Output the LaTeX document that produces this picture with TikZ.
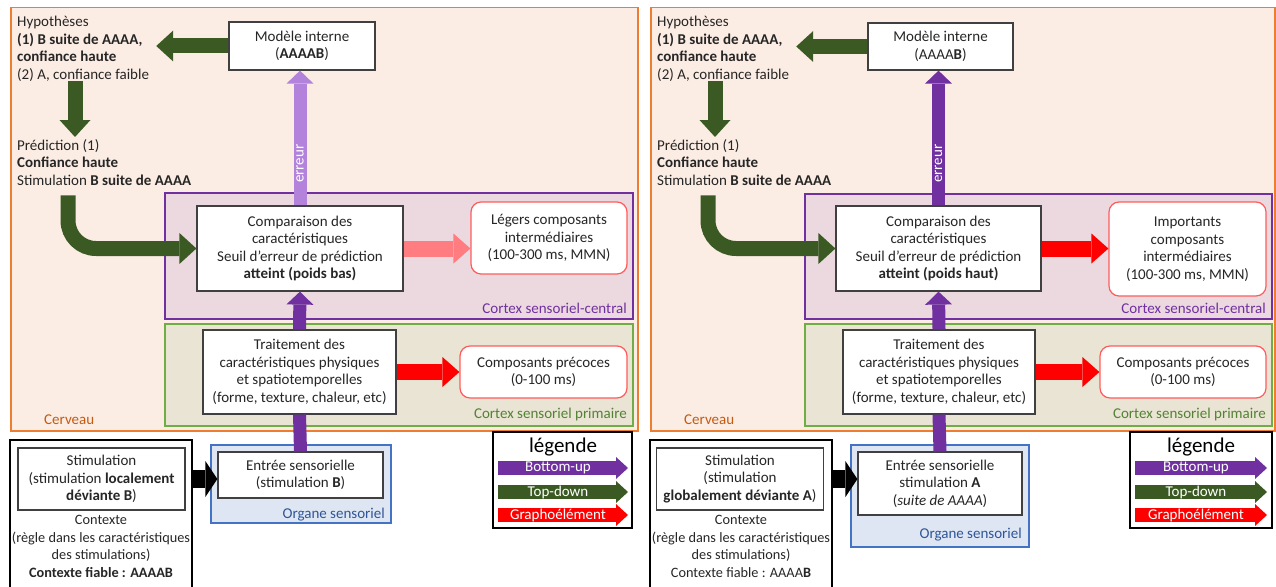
\documentclass[tikz,border=0pt]{standalone}
\usepackage{fontspec}
\setmainfont{Carlito}
\usetikzlibrary{positioning, arrows.meta}

\definecolor{orangeC}{HTML}{ED7D31}
\definecolor{fondC}{HTML}{FCEDE4}
\definecolor{brunC}{HTML}{C55A11}
\definecolor{violetC}{HTML}{7030A0}
\definecolor{violetF}{HTML}{EBD9DF}
\definecolor{violetL}{HTML}{B383DB}
\definecolor{vertC}{HTML}{70AD47}
\definecolor{vertF}{HTML}{E9E4D3}
\definecolor{vertT}{HTML}{548235}
\definecolor{vertS}{HTML}{3B5A23}
\definecolor{bleuC}{HTML}{4472C4}
\definecolor{bleuF}{HTML}{DEE6F3}
\definecolor{bleuT}{HTML}{2F5597}
\definecolor{rougeC}{HTML}{FF0000}
\definecolor{roseC}{HTML}{FF7C80}
\definecolor{bordC}{HTML}{FF5B5B}
\definecolor{texteC}{HTML}{262626}

\begin{document}
\begin{tikzpicture}[
    x=1pt, y=-1pt,
    font=\fontsize{15}{17.5}\selectfont,
    text=texteC,
    cerveau/.style={rectangle, draw=orangeC, fill=fondC, line width=1.5pt, anchor=north west, inner sep=0pt},
    central/.style={rectangle, draw=violetC, fill=violetF, line width=1.5pt, anchor=north west, inner sep=0pt},
    primaire/.style={rectangle, draw=vertC, fill=vertF, line width=1.5pt, anchor=north west, inner sep=0pt},
    organe/.style={rectangle, draw=bleuC, fill=bleuF, line width=1.5pt, anchor=north west, inner sep=0pt},
    boite/.style={rectangle, draw=black!75, fill=white, line width=1.2pt, align=center, inner sep=1pt},
    composant/.style={rectangle, rounded corners=10pt, draw=bordC, fill=white, line width=1.2pt, align=center, inner sep=1pt},
    cadre/.style={rectangle, draw=black, line width=2pt},
    bloc/.style={align=left, anchor=north west, inner sep=0pt},
    contexte/.style={anchor=north, align=center, inner sep=0pt, font=\fontsize{14.3}{17.7}\selectfont},
    zonelabel/.style={anchor=base east, inner sep=0pt},
    titre/.style={font=\fontsize{21}{24}\selectfont, text=black, inner sep=0pt},
    topdown/.style={draw=vertS, line width=15pt, -{Triangle[width=31pt, length=17pt, line width=0pt]}},
    bottomup/.style={draw=violetC, line width=13pt, -{Triangle[width=27pt, length=13pt, line width=0pt]}},
    grapho/.style={draw=rougeC, line width=16pt, -{Triangle[width=30pt, length=17pt, line width=0pt]}},
    stimfleche/.style={draw=black, line width=18pt, -{Triangle[width=36pt, length=12pt, line width=0pt]}},
    legfleche/.style={line width=14pt, -{Triangle[width=22pt, length=12pt, line width=0pt]}},
    legtexte/.style={midway, text=white, inner sep=0pt, xshift=-5pt}
]
\useasboundingbox (0,0) rectangle (1276,586);

% ---------- Panneau gauche : déviance locale ----------
\node[cerveau, minimum width=627pt, minimum height=423pt] (cerveau1) at (10,7) {};
\node[central, minimum width=468pt, minimum height=126pt] (central1) at (164,192) {};
\node[primaire, minimum width=468pt, minimum height=102pt] (primaire1) at (164,323) {};
\node[organe, minimum width=180pt, minimum height=78pt] (organe1) at (210,444) {};

\node[anchor=base west, inner sep=0pt, text=brunC] (lcerveau1) at (44,424) {Cerveau};
\node[zonelabel, text=violetC] (lcentral1) at (627,313) {Cortex sensoriel-central};
\node[zonelabel, text=vertT] (lprimaire1) at (627,418) {Cortex sensoriel primaire};
\node[zonelabel, text=bleuT] (lorgane1) at (385,518) {Organe sensoriel};

\node[bloc] (hyp1) at (17,16) {Hypothèses\\\textbf{(1) B suite de AAAA,}\\\textbf{confiance haute}\\(2) A, confiance faible};
\node[bloc] (pred1) at (17,139) {Prédiction (1)\\\textbf{Confiance haute}\\Stimulation \textbf{B suite de AAAA}};

\node[boite, minimum width=146pt, minimum height=48pt] (modele1) at (302,46) {Modèle interne\\(\textbf{AAAAB})};
\node[boite, minimum width=206pt, minimum height=85pt] (comp1) at (300,248.5) {Comparaison des\\caractéristiques\\Seuil d’erreur de prédiction\\\textbf{atteint (poids bas)}};
\node[composant, minimum width=156pt, minimum height=72pt] (leger1) at (549,238) {Légers composants\\intermédiaires\\(100-300 ms, MMN)};
\node[boite, minimum width=193pt, minimum height=84pt] (trait1) at (299.5,372) {Traitement des\\caractéristiques physiques\\et spatiotemporelles\\(forme, texture, chaleur, etc)};
\node[composant, minimum width=167pt, minimum height=52pt] (precoce1) at (543.5,372) {Composants précoces\\(0-100 ms)};
\node[boite, minimum width=165pt, minimum height=46pt] (entree1) at (300.5,475) {Entrée sensorielle\\(stimulation \textbf{B})};

\node[cadre, minimum width=182pt, minimum height=160pt] (cadre1) at (101,520) {};
\node[boite, minimum width=167pt, minimum height=62pt] (stim1) at (101.5,479) {Stimulation\\(stimulation \textbf{localement}\\\textbf{déviante B})};
\node[contexte] (contexte1) at (101,515) {Contexte\\(règle dans les caractéristiques\\des stimulations)\\\textbf{Contexte fiable : AAAAB}};

% flèches
\draw[topdown, shorten >=7pt] (modele1.west) -- (modele1.west -| hyp1.east);
\draw[topdown, shorten >=2pt] ([xshift=58pt]hyp1.south west) -- ([xshift=58pt]hyp1.south west |- pred1.north);
\draw[topdown, rounded corners=28pt] ([xshift=51pt,yshift=-10pt]pred1.south west) |- (comp1.west);
\draw[bottomup, draw=violetL] (comp1.north) -- (comp1.north |- modele1.south)
    node[pos=0.31, rotate=90, text=white, inner sep=0pt] (err1) {erreur};
\draw[bottomup] (trait1.north) -- (comp1.south);
\draw[draw=violetC, line width=13pt] (entree1.north) -- (trait1.south);
\draw[grapho, draw=roseC] (comp1.east) -- (comp1.east -| leger1.west);
\draw[grapho] (trait1.east) -- (precoce1.west);
\draw[stimfleche] (cadre1.east |- stim1.east) -- (stim1.east -| entree1.west);

% légende
\node[cadre, minimum width=139pt, minimum height=96pt] (legende1) at (562.5,480) {};
\node[titre] (titre1) at (563,447) {légende};
\coordinate (bu1a) at (498,468); \coordinate (bu1b) at (628,468);
\coordinate (td1a) at (498,492); \coordinate (td1b) at (628,492);
\coordinate (gr1a) at (498,515); \coordinate (gr1b) at (628,515);
\draw[legfleche, draw=violetC] (bu1a) -- (bu1b) node[legtexte] {Bottom-up};
\draw[legfleche, draw=vertS] (td1a) -- (td1b) node[legtexte] {Top-down};
\draw[legfleche, draw=rougeC] (gr1a) -- (gr1b) node[legtexte] {Graphoélément};

% ---------- Panneau droit : déviance globale ----------
\node[cerveau, minimum width=624pt, minimum height=423pt] (cerveau2) at (650,7) {};
\node[central, minimum width=467pt, minimum height=125pt] (central2) at (804,193) {};
\node[primaire, minimum width=467pt, minimum height=102pt] (primaire2) at (804,323) {};
\node[organe, minimum width=178pt, minimum height=102pt] (organe2) at (850,444) {};

\node[anchor=base west, inner sep=0pt, text=brunC] (lcerveau2) at (684,424) {Cerveau};
\node[zonelabel, text=violetC] (lcentral2) at (1266,313) {Cortex sensoriel-central};
\node[zonelabel, text=vertT] (lprimaire2) at (1266,418) {Cortex sensoriel primaire};
\node[zonelabel, text=bleuT] (lorgane2) at (1022,538) {Organe sensoriel};

\node[bloc] (hyp2) at (657,16) {Hypothèses\\\textbf{(1) B suite de AAAA,}\\\textbf{confiance haute}\\(2) A, confiance faible};
\node[bloc] (pred2) at (657,139) {Prédiction (1)\\\textbf{Confiance haute}\\Stimulation \textbf{B suite de AAAA}};

\node[boite, minimum width=145pt, minimum height=47pt] (modele2) at (940.5,46.5) {Modèle interne\\(AAAA\textbf{B})};
\node[boite, minimum width=205pt, minimum height=85pt] (comp2) at (938.5,248.5) {Comparaison des\\caractéristiques\\Seuil d’erreur de prédiction\\\textbf{atteint (poids haut)}};
\node[composant, minimum width=157pt, minimum height=94pt] (important2) at (1187.5,249) {Importants\\composants\\intermédiaires\\(100-300 ms, MMN)};
\node[boite, minimum width=192pt, minimum height=84pt] (trait2) at (939,372) {Traitement des\\caractéristiques physiques\\et spatiotemporelles\\(forme, texture, chaleur, etc)};
\node[composant, minimum width=166pt, minimum height=52pt] (precoce2) at (1183,372) {Composants précoces\\(0-100 ms)};
\node[boite, minimum width=164pt, minimum height=63pt] (entree2) at (940,483.5) {Entrée sensorielle\\stimulation \textbf{A}\\(\textit{suite de AAAA})};

\node[cadre, minimum width=182pt, minimum height=160pt] (cadre2) at (741,520) {};
\node[boite, minimum width=167pt, minimum height=62pt] (stim2) at (740,479) {Stimulation\\(stimulation\\\textbf{globalement déviante A})};
\node[contexte] (contexte2) at (741,515) {Contexte\\(règle dans les caractéristiques\\des stimulations)\\Contexte fiable : AAAA\textbf{B}};

% flèches
\draw[topdown, shorten >=7pt] (modele2.west) -- (modele2.west -| hyp2.east);
\draw[topdown, shorten >=2pt] ([xshift=58pt]hyp2.south west) -- ([xshift=58pt]hyp2.south west |- pred2.north);
\draw[topdown, rounded corners=28pt] ([xshift=51pt,yshift=-10pt]pred2.south west) |- (comp2.west);
\draw[bottomup] (comp2.north) -- (comp2.north |- modele2.south)
    node[pos=0.31, rotate=90, text=white, inner sep=0pt] (err2) {erreur};
\draw[bottomup] (trait2.north) -- (comp2.south);
\draw[draw=violetC, line width=13pt] (entree2.north) -- (trait2.south);
\draw[grapho] (comp2.east) -- (comp2.east -| important2.west);
\draw[grapho] (trait2.east) -- (precoce2.west);
\draw[stimfleche] (cadre2.east |- stim2.east) -- (stim2.east -| entree2.west);

% légende
\node[cadre, minimum width=142pt, minimum height=96pt] (legende2) at (1201,480) {};
\node[titre] (titre2) at (1201,447) {légende};
\coordinate (bu2a) at (1135,468); \coordinate (bu2b) at (1267,468);
\coordinate (td2a) at (1135,492); \coordinate (td2b) at (1267,492);
\coordinate (gr2a) at (1135,515); \coordinate (gr2b) at (1267,515);
\draw[legfleche, draw=violetC] (bu2a) -- (bu2b) node[legtexte] {Bottom-up};
\draw[legfleche, draw=vertS] (td2a) -- (td2b) node[legtexte] {Top-down};
\draw[legfleche, draw=rougeC] (gr2a) -- (gr2b) node[legtexte] {Graphoélément};

\end{tikzpicture}
\end{document}
